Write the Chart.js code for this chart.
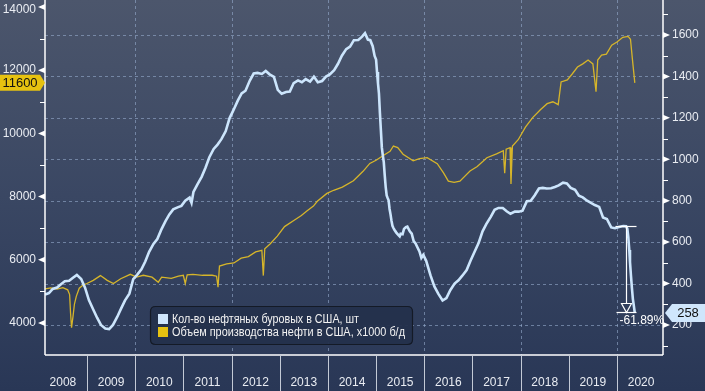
<!DOCTYPE html>
<html>
<head>
<meta charset="utf-8">
<script src="https://cdn.jsdelivr.net/npm/chart.js@4.4.0/dist/chart.umd.min.js"></script>
<style>
  body { margin: 0; background: #2a3857; }
  canvas { display: block; }
</style>
</head>
<body>
<canvas id="myChart" width="705" height="391"></canvas>
<script>
// oil rigs in the US (right axis), dates as decimal years
const rigDates = [
  2008.13, 2008.21, 2008.29, 2008.38, 2008.46, 2008.54, 2008.63, 2008.71, 2008.79, 2008.88, 2008.96,
  2009.04, 2009.13, 2009.21, 2009.29, 2009.38, 2009.46, 2009.54, 2009.63, 2009.71, 2009.79, 2009.88, 2009.96,
  2010.04, 2010.13, 2010.21, 2010.29, 2010.38, 2010.46, 2010.54, 2010.63, 2010.71, 2010.79, 2010.88, 2010.96,
  2011.04, 2011.13, 2011.17, 2011.21, 2011.29, 2011.38, 2011.46, 2011.54, 2011.63, 2011.71, 2011.79, 2011.88, 2011.96,
  2012.04, 2012.13, 2012.21, 2012.29, 2012.38, 2012.46, 2012.54, 2012.63, 2012.71, 2012.79, 2012.88, 2012.96,
  2013.04, 2013.13, 2013.21, 2013.29, 2013.38, 2013.46, 2013.54, 2013.63, 2013.71, 2013.79, 2013.88, 2013.96,
  2014.04, 2014.13, 2014.21, 2014.29, 2014.38, 2014.46, 2014.54, 2014.63, 2014.71, 2014.77, 2014.83, 2014.88, 2014.93, 2014.97,
  2015.0, 2015.02, 2015.04, 2015.06, 2015.08, 2015.1, 2015.12, 2015.14, 2015.16, 2015.18, 2015.2, 2015.22, 2015.24,
  2015.26, 2015.28, 2015.3, 2015.32, 2015.34, 2015.36, 2015.38, 2015.42, 2015.46, 2015.49, 2015.51, 2015.55, 2015.58,
  2015.62, 2015.65, 2015.7, 2015.74, 2015.78, 2015.82, 2015.86, 2015.9, 2015.94, 2015.98,
  2016.04, 2016.13, 2016.21, 2016.29, 2016.38, 2016.46, 2016.54, 2016.63, 2016.71, 2016.79, 2016.88, 2016.96,
  2017.04, 2017.13, 2017.21, 2017.29, 2017.38, 2017.46, 2017.54, 2017.63, 2017.71, 2017.79, 2017.88, 2017.96,
  2018.04, 2018.13, 2018.21, 2018.29, 2018.38, 2018.46, 2018.54, 2018.63, 2018.71, 2018.79, 2018.88, 2018.96,
  2019.04, 2019.13, 2019.21, 2019.29, 2019.38, 2019.46, 2019.54, 2019.63, 2019.71, 2019.79, 2019.88, 2019.96,
  2020.04, 2020.13, 2020.19, 2020.215, 2020.235, 2020.255, 2020.27, 2020.29, 2020.31, 2020.33, 2020.35, 2020.37
];
const rigCounts = [
  347, 354, 374, 381, 397, 411, 413, 428, 442, 422, 380,
  320, 275, 235, 200, 183, 180, 200, 240, 280, 319, 351, 421,
  442, 469, 506, 553, 591, 615, 659, 701, 734, 758, 768, 775,
  800, 815, 790, 842, 878, 915, 959, 1010, 1050, 1071, 1097, 1136, 1199,
  1237, 1283, 1318, 1331, 1380, 1414, 1417, 1412, 1426, 1410, 1398, 1335,
  1317, 1325, 1327, 1368, 1381, 1372, 1387, 1375, 1399, 1372, 1378, 1399,
  1410, 1430, 1461, 1500, 1532, 1544, 1575, 1576, 1592, 1609, 1578, 1575, 1546, 1499,
  1482, 1421, 1366, 1317, 1223, 1140, 1056, 1019, 986, 922, 866, 825, 813,
  802, 760, 734, 703, 679, 668, 660, 646, 635, 628, 640, 638, 664,
  672, 675, 652, 641, 605, 594, 574, 555, 524, 538,
  510, 439, 386, 351, 318, 330, 368, 400, 416, 438, 465, 510,
  551, 597, 652, 688, 722, 756, 765, 765, 749, 737, 747, 747,
  752, 798, 800, 825, 859, 862, 859, 860, 866, 874, 887, 883,
  862, 853, 824, 816, 800, 789, 779, 770, 719, 712, 671, 667,
  673, 678, 677, 664, 624, 562, 504, 438, 378, 325, 292, 258
];

// US crude output, thousand b/d (left axis)
const oilDates = [
  2008.13, 2008.25, 2008.38, 2008.5, 2008.6, 2008.64, 2008.66, 2008.68, 2008.71, 2008.74, 2008.78, 2008.84, 2008.92,
  2009.0, 2009.13, 2009.28, 2009.42, 2009.55, 2009.7, 2009.9, 2010.03, 2010.17, 2010.35, 2010.48, 2010.55, 2010.75, 2010.9,
  2011.0, 2011.04, 2011.08, 2011.2, 2011.4, 2011.6, 2011.69, 2011.72, 2011.75, 2011.9,
  2012.05, 2012.2, 2012.35, 2012.5, 2012.63, 2012.66, 2012.69, 2012.8, 2012.95,
  2013.1, 2013.3, 2013.45, 2013.57, 2013.7, 2013.78, 2013.98,
  2014.12, 2014.3, 2014.53, 2014.73, 2014.87, 2015.0, 2015.15, 2015.29, 2015.36, 2015.45, 2015.56, 2015.77, 2015.9,
  2016.06, 2016.27, 2016.4, 2016.5, 2016.62, 2016.74, 2016.95,
  2017.1, 2017.3, 2017.5, 2017.64, 2017.67, 2017.7, 2017.78, 2017.8, 2017.83, 2017.95,
  2018.1, 2018.25, 2018.41, 2018.55, 2018.67, 2018.78, 2018.84, 2018.97,
  2019.07, 2019.18, 2019.29, 2019.4, 2019.5, 2019.565, 2019.6, 2019.68, 2019.78, 2019.89,
  2020.0, 2020.12, 2020.23, 2020.28, 2020.32, 2020.37
];
const oilOutput = [
  5080, 5110, 5070, 5120, 5050, 4900, 4300, 3850, 4200, 4600, 4850, 5100, 5200,
  5250, 5350, 5500, 5350, 5250, 5400, 5540, 5450, 5510, 5450, 5290, 5450, 5410, 5480,
  5510, 5250, 5520, 5540, 5510, 5510, 5480, 5130, 5800, 5870,
  5900, 6050, 6100, 6250, 6300, 5500, 6350, 6500, 6750,
  7050, 7250, 7400, 7550, 7700, 7850, 8100,
  8200, 8300, 8500, 8800, 9050, 9150, 9300, 9430, 9600, 9550, 9340, 9130, 9200,
  9230, 9040, 8750, 8490, 8450, 8490, 8810,
  8950, 9230, 9350, 9450, 8740, 9500, 9550, 8400, 9600, 9800,
  10200, 10500, 10750, 10940, 11000, 10910, 11630, 11690,
  11880, 12100, 12200, 12320, 12200, 11320, 12320, 12480, 12510, 12790,
  12890, 13040, 13070, 12980, 12350, 11600
];

const yearLabels = [2008, 2009, 2010, 2011, 2012, 2013, 2014, 2015, 2016, 2017, 2018, 2019, 2020];
const leftTicks = [4000, 6000, 8000, 10000, 12000, 14000];
const rightTicks = [200, 400, 600, 800, 1000, 1200, 1400, 1600];
const rigLabel = "Кол-во нефтяных буровых в США, шт";
const oilLabel = "Объем производства нефти в США, х1000 б/д";
// start of the 2020 fall in rigs, used for the arrow and the % label
const dropDate = 2020.19;
const dropStart = 677;

const FONT = '"Liberation Sans", Arial, sans-serif';
const TXT = "#e9ecf2";

function line(c, x1, y1, x2, y2) {
  c.beginPath();
  c.moveTo(x1, y1);
  c.lineTo(x2, y2);
  c.stroke();
}

function roundRect(c, x, y, w, h, r) {
  c.beginPath();
  c.moveTo(x + r, y);
  c.lineTo(x + w - r, y);
  c.quadraticCurveTo(x + w, y, x + w, y + r);
  c.lineTo(x + w, y + h - r);
  c.quadraticCurveTo(x + w, y + h, x + w - r, y + h);
  c.lineTo(x + r, y + h);
  c.quadraticCurveTo(x, y + h, x, y + h - r);
  c.lineTo(x, y + r);
  c.quadraticCurveTo(x, y, x + r, y);
  c.closePath();
}

const decor = {
  id: "decor",
  beforeDraw(chart) {
    const c = chart.ctx;
    const g = c.createLinearGradient(0, 0, 0, chart.height);
    g.addColorStop(0, "#4c566c");
    g.addColorStop(0.5, "#3a4763");
    g.addColorStop(1, "#293756");
    c.save();
    c.fillStyle = g;
    c.fillRect(0, 0, chart.width, chart.height);
    c.restore();
  },
  beforeDatasetsDraw(chart) {
    const c = chart.ctx;
    const a = chart.chartArea;
    const x = chart.scales.x;
    const yr = chart.scales.yRight;
    c.save();
    c.strokeStyle = "rgba(150,172,205,0.6)";
    c.lineWidth = 1;
    c.setLineDash([3, 3]);
    rightTicks.forEach(function (v) {
      const py = Math.round(yr.getPixelForValue(v)) + 0.5;
      line(c, a.left, py, a.right, py);
    });
    yearLabels.forEach(function (y) {
      if (y % 2 !== 0 || y === 2008) return;
      const px = Math.round(x.getPixelForValue(y)) + 0.5;
      line(c, px, a.top, px, a.bottom);
    });
    c.restore();
  },
  afterDraw(chart) {
    const c = chart.ctx;
    const a = chart.chartArea;
    const x = chart.scales.x;
    const yl = chart.scales.yLeft;
    const yr = chart.scales.yRight;
    c.save();

    // axis frame
    c.strokeStyle = "#ffffff";
    c.lineWidth = 1.5;
    line(c, a.left, 0, a.left, a.bottom);
    line(c, a.right, 0, a.right, a.bottom);
    line(c, a.left, a.bottom, a.right, a.bottom);

    // tick markers
    c.fillStyle = "#ffffff";
    c.lineWidth = 1;
    leftTicks.forEach(function (v) {
      const py = yl.getPixelForValue(v);
      c.beginPath();
      c.moveTo(a.left, py - 3);
      c.lineTo(a.left - 7, py);
      c.lineTo(a.left, py + 3);
      c.fill();
      const pm = Math.round(yl.getPixelForValue(v - 1000)) + 0.5;
      if (pm < a.bottom) line(c, a.left - 5, pm, a.left, pm);
    });
    rightTicks.forEach(function (v) {
      const py = yr.getPixelForValue(v);
      c.beginPath();
      c.moveTo(a.right, py - 3);
      c.lineTo(a.right + 7, py);
      c.lineTo(a.right, py + 3);
      c.fill();
      const pm = Math.round(yr.getPixelForValue(v - 100)) + 0.5;
      if (pm < a.bottom) line(c, a.right, pm, a.right + 5, pm);
    });
    const pTop = Math.round(yr.getPixelForValue(1700)) + 0.5;
    line(c, a.right, pTop, a.right + 5, pTop);

    // top left label is pushed down so it stays inside the picture
    const topTick = leftTicks[leftTicks.length - 1];
    c.fillStyle = TXT;
    c.font = "12px " + FONT;
    c.textAlign = "right";
    c.textBaseline = "middle";
    c.fillText(String(topTick), a.left - 9, Math.max(yl.getPixelForValue(topTick), 10));

    // year separators under the axis
    c.strokeStyle = "#c3cad6";
    yearLabels.forEach(function (y) {
      const px = Math.round(x.getPixelForValue(y)) + 0.5;
      if (px > a.left + 2 && px < a.right) line(c, px, a.bottom, px, chart.height);
    });

    // last value tags
    const oilLast = oilOutput[oilOutput.length - 1];
    const oy = yl.getPixelForValue(oilLast);
    c.fillStyle = "#e6c210";
    c.beginPath();
    c.moveTo(0, oy - 8);
    c.lineTo(40, oy - 8);
    c.lineTo(45, oy);
    c.lineTo(40, oy + 8);
    c.lineTo(0, oy + 8);
    c.closePath();
    c.fill();
    c.fillStyle = "#111111";
    c.font = "13px " + FONT;
    c.textAlign = "center";
    c.fillText(String(Math.round(oilLast)), 20, oy + 0.5);

    const rigLast = rigCounts[rigCounts.length - 1];
    const ry = yr.getPixelForValue(rigLast);
    c.fillStyle = "#cfe6fc";
    c.beginPath();
    c.moveTo(665, ry);
    c.lineTo(672, ry - 9);
    c.lineTo(705, ry - 9);
    c.lineTo(705, ry + 9);
    c.lineTo(672, ry + 9);
    c.closePath();
    c.fill();
    c.fillStyle = "#111111";
    c.fillText(String(rigLast), 688, ry + 0.5);

    // drop arrow with percent
    const ax = Math.round(x.getPixelForValue(dropDate)) + 0.5;
    const aTop = Math.round(yr.getPixelForValue(dropStart)) + 0.5;
    const aBot = Math.round(yr.getPixelForValue(rigLast)) - 0.5;
    c.strokeStyle = "#ffffff";
    c.lineWidth = 1.2;
    line(c, ax - 11, aTop, ax + 10, aTop);
    line(c, ax, aTop, ax, aBot - 9);
    c.beginPath();
    c.moveTo(ax - 5, aBot - 9);
    c.lineTo(ax + 5, aBot - 9);
    c.lineTo(ax, aBot);
    c.closePath();
    c.stroke();
    line(c, ax - 10, aBot, ax + 10, aBot);
    const pct = ((rigLast - dropStart) / dropStart) * 100;
    c.fillStyle = "#ffffff";
    c.font = "12px " + FONT;
    c.textAlign = "left";
    c.fillText(pct.toFixed(2) + "%", ax - 7, aBot + 8);

    // legend box
    roundRect(c, 150.5, 306.5, 262, 38, 5);
    c.fillStyle = "rgba(36,48,76,0.95)";
    c.fill();
    c.strokeStyle = "#141a26";
    c.lineWidth = 1.2;
    c.stroke();
    c.fillStyle = "#cfe6fc";
    c.fillRect(158, 314, 10, 10);
    c.fillStyle = "#e6c210";
    c.fillRect(158, 327, 10, 10);
    c.fillStyle = "#f2f2f2";
    c.font = "12px " + FONT;
    c.textAlign = "left";
    c.fillText(chart.data.datasets[0].label, 172, 319.5, 187);
    c.fillText(chart.data.datasets[1].label, 172, 332.5, 233);

    c.restore();
  }
};

function points(xs, ys) {
  return xs.map(function (t, i) { return { x: t, y: ys[i] }; });
}

const ctx = document.getElementById("myChart").getContext("2d");
const myChart = new Chart(ctx, {
  type: "line",
  data: {
    datasets: [
      {
        label: rigLabel,
        data: points(rigDates, rigCounts),
        yAxisID: "yRight",
        borderColor: "#cce5fc",
        borderWidth: 2.6,
        pointRadius: 0,
        tension: 0,
      },
      {
        label: oilLabel,
        data: points(oilDates, oilOutput),
        yAxisID: "yLeft",
        borderColor: "#d6b52a",
        borderWidth: 1.3,
        pointRadius: 0,
        tension: 0,
      },
    ],
  },
  options: {
    responsive: false,
    animation: false,
    layout: { padding: 0 },
    plugins: {
      legend: { display: false },
      tooltip: { enabled: false },
    },
    scales: {
      x: {
        type: "linear",
        min: 2008.129,
        max: 2020.955,
        grid: { display: false, drawTicks: false },
        border: { display: false },
        afterBuildTicks: function (s) {
          s.ticks = yearLabels.map(function (y) { return { value: y + 0.5 }; });
        },
        ticks: {
          color: TXT,
          font: { family: FONT, size: 12 },
          padding: 20,
          autoSkip: false,
          maxRotation: 0,
          minRotation: 0,
          callback: function (v) { return String(Math.floor(v)); },
        },
        afterFit: function (s) {
          s.height = 36;
          s.paddingLeft = 0;
          s.paddingRight = 0;
        },
      },
      yLeft: {
        position: "left",
        min: 2987,
        max: 14221,
        grid: { display: false, drawTicks: false },
        border: { display: false },
        afterBuildTicks: function (s) {
          s.ticks = leftTicks.map(function (v) { return { value: v }; });
        },
        ticks: {
          color: TXT,
          font: { family: FONT, size: 12 },
          padding: 9,
          // the top label is drawn by the plugin, a little lower
          callback: function (v) { return v === 14000 ? "" : String(v); },
        },
        afterFit: function (s) {
          s.width = 45;
          s.paddingTop = 0;
          s.paddingBottom = 0;
        },
      },
      yRight: {
        position: "right",
        min: 55,
        max: 1769,
        grid: { display: false, drawTicks: false },
        border: { display: false },
        afterBuildTicks: function (s) {
          s.ticks = rightTicks.map(function (v) { return { value: v }; });
        },
        ticks: {
          color: TXT,
          font: { family: FONT, size: 12 },
          padding: 9,
          callback: function (v) { return String(v); },
        },
        afterFit: function (s) {
          s.width = 42;
          s.paddingTop = 0;
          s.paddingBottom = 0;
        },
      },
    },
  },
  plugins: [decor],
});
</script>
</body>
</html>
